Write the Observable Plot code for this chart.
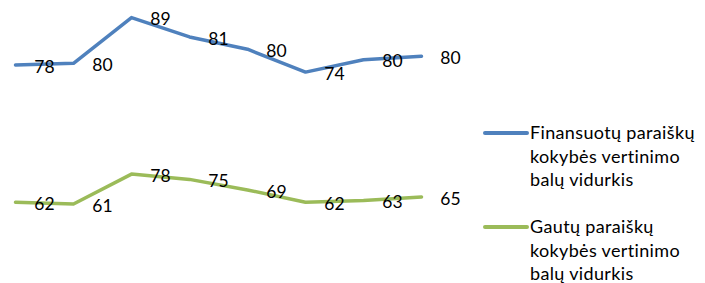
<!DOCTYPE html>
<html><head><meta charset="utf-8">
<script src="https://cdn.jsdelivr.net/npm/d3@7"></script>
<script src="https://cdn.jsdelivr.net/npm/@observablehq/plot@0.6"></script>
<style>
body{margin:0;background:#fff;font-family:Lato,"Open Sans",sans-serif;}
#wrap{position:relative;width:705px;height:283px;overflow:hidden;}
#chart{position:absolute;left:0;top:0;}
.sw{position:absolute;left:483px;width:46px;height:3.5px;border-radius:2px;}
.lt{position:absolute;left:530px;font-size:18px;letter-spacing:0.35px;line-height:23.5px;color:#000;white-space:nowrap;}
</style></head><body>
<div id="wrap"><div id="chart"></div><div id="legend"></div></div>
<script>
const categories = ["1","2","3","4","5","6","7","8"];
const seriesNames = ["Gautų paraiškų kokybės vertinimo balų vidurkis", "Finansuotų paraiškų kokybės vertinimo balų vidurkis"];
const legendLines = [["Finansuotų paraiškų","kokybės vertinimo","balų vidurkis"],["Gautų paraiškų","kokybės vertinimo","balų vidurkis"]];
const gautu = [62, 61, 78, 75, 69, 62, 63, 65];
const finansuotu = [78, 80, 89, 81, 80, 74, 80, 80];
const colors = ["#9BBB59", "#4F81BD"];

const seriesValues = [gautu, finansuotu];
const data = [];
seriesValues.forEach((vals, s) => vals.forEach((v, i) => data.push({cat: categories[i], series: seriesNames[s], value: v})));

const chart = Plot.plot({
  width: 470,
  height: 283,
  marginLeft: 12,
  marginRight: 46,
  style: {fontFamily: "Lato, 'Open Sans', sans-serif", background: "transparent"},
  x: {type: "point", domain: categories, padding: 0, axis: null},
  y: {domain: [0, 170], range: [310.8, 11.8], axis: null},
  color: {domain: seriesNames, range: colors},
  marks: [
    Plot.lineY(data, Plot.stackY2({x: "cat", y: "value", z: "series", stroke: "series", strokeWidth: 3.5, strokeLinecap: "round", strokeLinejoin: "round"})),
    Plot.text(data, Plot.stackY2({x: "cat", y: "value", z: "series", text: d => String(d.value), dx: 29, dy: 2, fontSize: 17.5, fill: "#000"}))
  ]
});
document.getElementById("chart").appendChild(chart);

const legend = document.getElementById("legend");
const entryColors = [colors[1], colors[0]];
const centers = [133, 227];
legendLines.forEach((lines, k) => {
  const sw = document.createElement("div");
  sw.className = "sw";
  sw.style.top = (centers[k] - 1.75) + "px";
  sw.style.background = entryColors[k];
  legend.appendChild(sw);
  const t = document.createElement("div");
  t.className = "lt";
  t.style.top = (centers[k] - 11.75) + "px";
  t.innerHTML = lines.join("<br>");
  legend.appendChild(t);
});
</script>
</body></html>
